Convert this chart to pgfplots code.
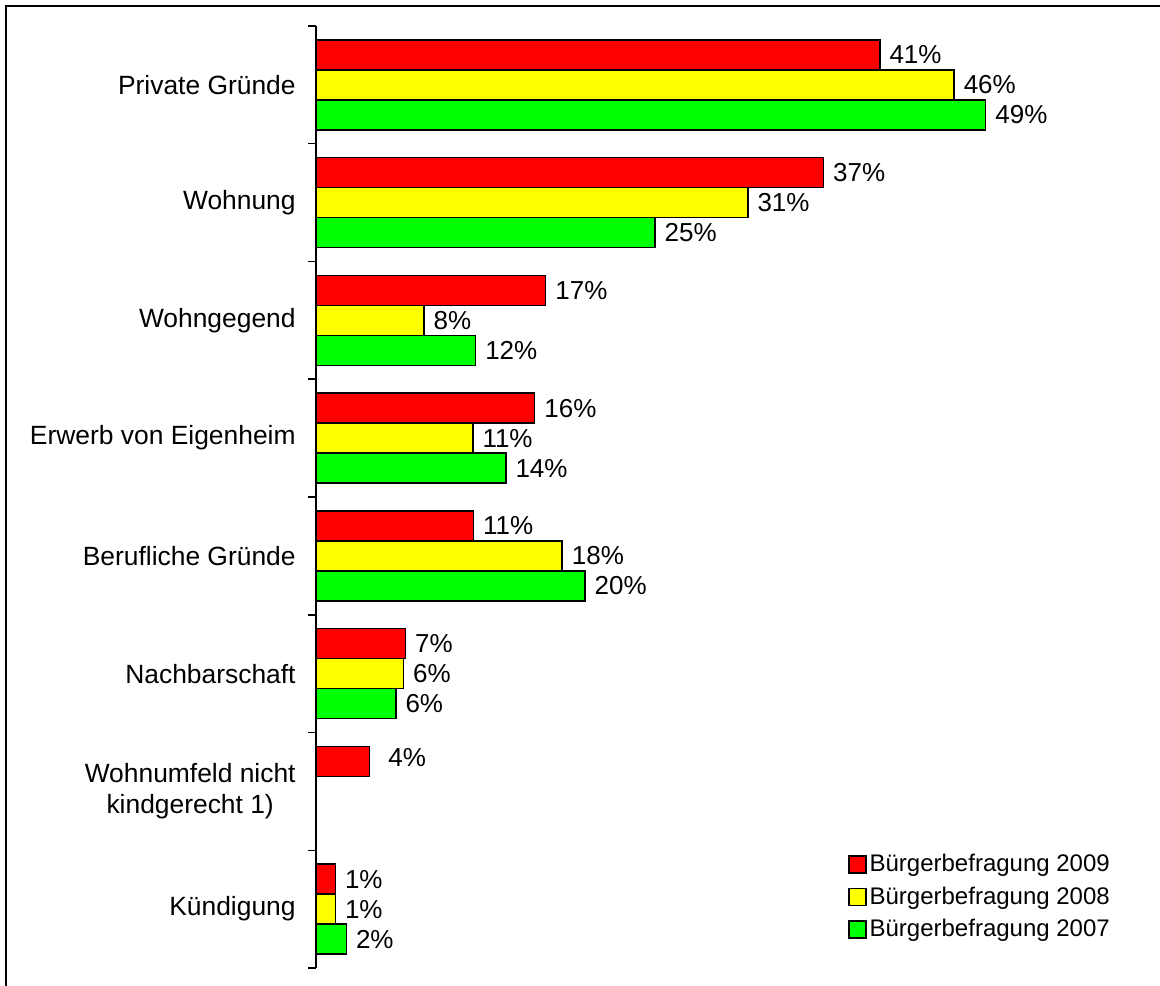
\documentclass[border=0pt]{standalone}
\usepackage{fontspec}
\setmainfont{Liberation Sans}
\usepackage{pgfplots}
\pgfplotsset{compat=1.18}
\definecolor{cred}{RGB}{255,0,0}
\definecolor{cyellow}{RGB}{255,255,0}
\definecolor{cgreen}{RGB}{0,255,0}
\begin{document}
\begin{tikzpicture}
\useasboundingbox (0,0) rectangle (580pt,492.5pt);
\draw[line width=1pt] (3pt,-2pt) -- (3pt,489.5pt) -- (583pt,489.5pt);
\begin{axis}[
  at={(158pt,8.5pt)}, anchor=south west,
  scale only axis, width=412.5pt, height=471pt,
  xmin=0, xmax=60, ymin=-0.5, ymax=7.5,
  xbar, bar width=15pt,
  axis x line=none,
  axis y line*=left,
  y axis line style={line width=0.75pt},
  ytick={0,...,7},
  yticklabels={Kündigung, {Wohnumfeld nicht\\kindgerecht 1)}, Nachbarschaft, Berufliche Gründe, Erwerb von Eigenheim, Wohngegend, Wohnung, Private Gründe},
  major tick length=0pt,
  minor ytick={-0.5,0.5,...,7.5},
  minor tick length=4pt, tick align=outside,
  tick style={line width=0.75pt, black},
  yticklabel style={font=\fontsize{13.2}{15.5}\selectfont, align=center, inner sep=0pt, xshift=-10pt},
  nodes near coords, point meta=explicit symbolic,
  every node near coord/.append style={font=\fontsize{13}{15}\selectfont, inner sep=0pt, anchor=west, xshift=4.5pt, black},
  clip=false,
  legend cell align=left,
  legend style={draw=none, fill=none, at={(axis cs:38.67,0.494)}, anchor=north west,
     inner sep=0pt, row sep=3pt, font=\fontsize{12}{14}\selectfont,
     nodes={inner sep=1.5pt}},
  legend image code/.code={\path[draw,fill,#1,line width=0.75pt] (0pt,-4.25pt) rectangle (8.5pt,4.25pt);},
]
\addplot[fill=cred, draw=black, line width=0.75pt, bar shift=15pt] coordinates {
  (41.0,7) [41\%] (36.9,6) [37\%] (16.7,5) [17\%] (15.9,4) [16\%]
  (11.44,3) [11\%] (6.5,2) [7\%] (3.9,1) [\hspace{4.5pt}\raisebox{4pt}{4\%}] (1.4,0) [1\%]
};
\addplot[fill=cyellow, draw=black, line width=0.75pt, bar shift=0pt] coordinates {
  (46.4,7) [46\%] (31.4,6) [31\%] (7.85,5) [8\%] (11.4,4) [11\%]
  (17.9,3) [18\%] (6.35,2) [6\%] (1.4,0) [1\%]
};
\addplot[fill=cgreen, draw=black, line width=0.75pt, bar shift=-15pt] coordinates {
  (48.7,7) [49\%] (24.65,6) [25\%] (11.6,5) [12\%] (13.8,4) [14\%]
  (19.56,3) [20\%] (5.8,2) [6\%] (2.2,0) [2\%]
};
\legend{Bürgerbefragung 2009, Bürgerbefragung 2008, Bürgerbefragung 2007}
\end{axis}
\end{tikzpicture}
\end{document}
